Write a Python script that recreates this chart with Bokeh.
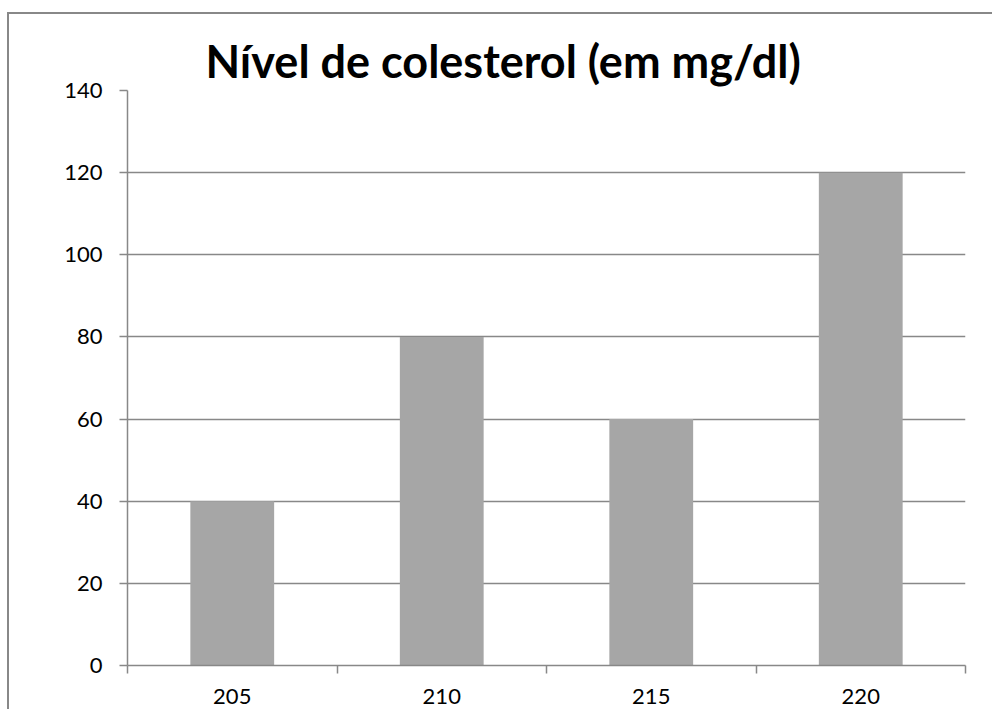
from bokeh.plotting import figure
from bokeh.models import Range1d, FixedTicker, ColumnDataSource, Title
from bokeh.embed import file_html
from bokeh.resources import INLINE

categories = ["205", "210", "215", "220"]
values = [40, 80, 60, 120]
y_ticks = [0, 20, 40, 60, 80, 100, 120, 140]
title_text = "Nível de colesterol (em mg/dl)"

positions = [i + 0.5 for i in range(len(categories))]
boundaries = list(range(len(categories) + 1))

GRAY = "#888888"
FONT = "Lato"

frame_bg = ("linear-gradient(#888888, #888888) left top / 2px 100% no-repeat, "
            "linear-gradient(#888888, #888888) left top / 100% 2px no-repeat, white")

p = figure(width=1000, height=720, output_backend="svg", toolbar_location=None,
           x_range=Range1d(0, len(categories)), y_range=Range1d(0, 140),
           min_border_left=120, min_border_right=42, min_border_top=78, min_border_bottom=67,
           styles={"position": "fixed", "left": "7px", "top": "12px", "background": frame_bg})
p.title = None
p.outline_line_color = None
p.background_fill_color = "white"
p.border_fill_color = None

src = ColumnDataSource(dict(x=positions, top=values, cat=categories))
p.vbar(x="x", top="top", bottom=0, width=0.4, source=src, fill_color="#a6a6a6", line_color=None)

# y axis
p.yaxis.ticker = FixedTicker(ticks=y_ticks)
p.yaxis.axis_line_color = GRAY
p.yaxis.axis_line_width = 1.5
p.yaxis.major_tick_line_color = GRAY
p.yaxis.major_tick_line_width = 1.5
p.yaxis.major_tick_out = 8
p.yaxis.major_tick_in = 0
p.yaxis.minor_tick_line_color = None
p.yaxis.major_label_standoff = 17
p.yaxis.major_label_text_font = FONT
p.yaxis.major_label_text_font_size = "22px"
p.yaxis.major_label_text_color = "black"

# x axis
p.xaxis.ticker = FixedTicker(ticks=positions, minor_ticks=boundaries)
p.xaxis.major_label_overrides = {pos: c for pos, c in zip(positions, categories)}
p.xaxis.axis_line_color = GRAY
p.xaxis.axis_line_width = 1.5
p.xaxis.major_tick_line_color = None
p.xaxis.major_tick_out = 0
p.xaxis.major_tick_in = 0
p.xaxis.minor_tick_line_color = GRAY
p.xaxis.minor_tick_line_width = 1.5
p.xaxis.minor_tick_out = 8
p.xaxis.minor_tick_in = 0
p.xaxis.major_label_standoff = 15
p.xaxis.major_label_text_font = FONT
p.xaxis.major_label_text_font_size = "22px"
p.xaxis.major_label_text_color = "black"

p.xgrid.grid_line_color = None
p.ygrid.grid_line_color = GRAY
p.ygrid.grid_line_width = 1.5

# title
p.add_layout(Title(text=title_text, align="left", offset=78, standoff=6,
                   text_font=FONT, text_font_style="bold", text_font_size="45px",
                   text_color="black"), "above")

open("out.html", "w").write(file_html(p, INLINE))
